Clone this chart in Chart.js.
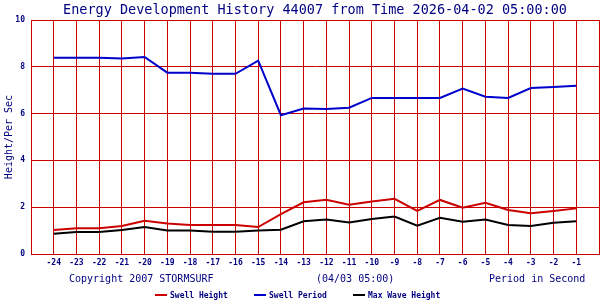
<!DOCTYPE html>
<html><head><meta charset="utf-8">
<script src="https://cdn.jsdelivr.net/npm/chart.js@4/dist/chart.umd.min.js"></script>
<style>html,body{margin:0;padding:0;background:#fff}#wrap{width:600px;height:300px;position:relative}</style>
</head><body><div id="wrap"><canvas id="c" width="600" height="300"></canvas></div>
<script>
const hours = [-24,-23,-22,-21,-20,-19,-18,-17,-16,-15,-14,-13,-12,-11,-10,-9,-8,-7,-6,-5,-4,-3,-2,-1];
const swellHeight = [1.03,1.10,1.10,1.20,1.42,1.30,1.24,1.24,1.24,1.15,1.70,2.21,2.32,2.11,2.24,2.36,1.84,2.31,1.98,2.19,1.88,1.74,1.84,1.95];
const swellPeriod = [8.39,8.39,8.39,8.35,8.42,7.75,7.75,7.70,7.70,8.26,5.93,6.22,6.20,6.25,6.67,6.67,6.67,6.67,7.07,6.72,6.67,7.09,7.14,7.19];
const maxWaveHeight = [0.87,0.94,0.94,1.03,1.15,1.00,1.00,0.95,0.95,1.00,1.04,1.40,1.47,1.35,1.50,1.60,1.21,1.55,1.38,1.47,1.24,1.20,1.34,1.40];
const yTicks = [0,2,4,6,8,10];
const titleText = 'Energy Development History 44007 from Time 2026-04-02 05:00:00';
const yLabel = 'Height/Per Sec';
const footLeft = 'Copyright 2007 STORMSURF';
const footMid = '(04/03 05:00)';
const footRight = 'Period in Second';

const navy = '#000080';
const gridRed = '#cc0000';
const mk = (arr) => arr.map((v,i)=>({x:hours[i], y:v}));

const deco = {
  id:'deco',
  afterDraw(chart){
    const ctx = chart.ctx, a = chart.chartArea;
    ctx.save();
    ctx.fillStyle = navy;
    ctx.font = '13.5px "DejaVu Sans Mono"';
    ctx.textAlign = 'center'; ctx.textBaseline = 'alphabetic';
    ctx.fillText(titleText, (a.left+a.right)/2, 14);
    ctx.font = '10px "DejaVu Sans Mono"';
    ctx.textAlign = 'left';
    ctx.fillText(footLeft, 69, 282);
    ctx.fillText(footMid, 316, 282);
    ctx.fillText(footRight, 489, 282);
    ctx.save();
    ctx.translate(12, (a.top+a.bottom)/2);
    ctx.rotate(-Math.PI/2);
    ctx.textAlign='center';
    ctx.fillText(yLabel, 0, 0);
    ctx.restore();
    const items = [['Swell Height', '#cc0000', 155],['Swell Period', '#0000cc', 254],['Max Wave Height','#000000',353]];
    ctx.font = 'bold 8px "DejaVu Sans Mono"';
    ctx.textBaseline = 'middle';
    items.forEach(([t,c,x])=>{
      ctx.fillStyle = c; ctx.fillRect(x, 294, 12, 2);
      ctx.fillStyle = navy; ctx.fillText(t, x+15, 295.5);
    });
    ctx.restore();
  }
};

new Chart(document.getElementById('c'), {
  type:'line',
  data:{datasets:[
    {label:'Swell Height', data:mk(swellHeight), borderColor:'#cc0000', borderWidth:2, pointRadius:0, tension:0},
    {label:'Swell Period', data:mk(swellPeriod), borderColor:'#0000cc', borderWidth:2, pointRadius:0, tension:0},
    {label:'Max Wave Height', data:mk(maxWaveHeight), borderColor:'#000000', borderWidth:2, pointRadius:0, tension:0}
  ]},
  options:{
    responsive:false, animation:false,
    layout:{padding:{top:20,right:1,left:0,bottom:0}},
    plugins:{legend:{display:false}, title:{display:false}, tooltip:{enabled:false}},
    scales:{
      x:{type:'linear', min:-25, max:0,
        afterFit(s){ s.height = 46; s.paddingLeft = 0; s.paddingRight = 0; },
        afterBuildTicks(s){ s.ticks = []; for(let v=-25; v<=0; v++) s.ticks.push({value:v}); },
        ticks:{stepSize:1, padding:4, color:navy, font:{family:'DejaVu Sans Mono', size:8, weight:'bold'}, maxRotation:0, autoSkip:false,
          callback:(v)=> (v<=-25||v>=0) ? '' : String(v)},
        grid:{color:gridRed, drawTicks:false, lineWidth:1},
        border:{color:gridRed, width:1}
      },
      y:{type:'linear', min:0, max:10,
        afterFit(s){ s.width = 31; s.paddingTop = 0; s.paddingBottom = 0; },
        afterBuildTicks(s){ s.ticks = yTicks.map(v=>({value:v})); },
        ticks:{padding:6, color:navy, font:{family:'DejaVu Sans Mono', size:8, weight:'bold'}},
        grid:{color:gridRed, drawTicks:false, lineWidth:1},
        border:{color:gridRed, width:1}
      }
    }
  },
  plugins:[deco]
});
</script></body></html>
